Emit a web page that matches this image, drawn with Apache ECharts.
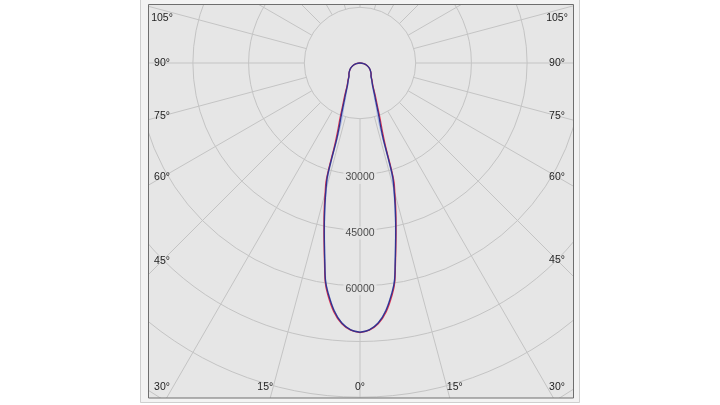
<!DOCTYPE html>
<html>
<head>
<meta charset="utf-8">
<style>
html, body { margin: 0; padding: 0; background: #fff; }
#chart { width: 720px; height: 405px; }
</style>
<script src="https://cdn.jsdelivr.net/npm/echarts@6/dist/echarts.min.js"></script>
</head>
<body>
<div id="chart"></div>
<script>
// gamma angles (deg from nadir) and luminous intensity (cd)
var gammaAngles = [0, 2, 4, 6, 8, 9, 10, 11, 12, 13, 14, 15, 16, 16.5, 17, 18, 20, 22.5, 25, 27.5, 30, 35, 40, 45, 50, 60, 70, 80, 90];
var intensityC90 = [72500, 71900, 70200, 67000, 62300, 59400, 54600, 50200, 46300, 42600, 39000, 35500, 32000, 27000, 21500, 18200, 14500, 11200, 9200, 7700, 6700, 5500, 4600, 4200, 3800, 2950, 2000, 1000, 0];
var intensityC0 = [72600, 72000, 70400, 67400, 62800, 59800, 55000, 50600, 46700, 43100, 39700, 36300, 33200, 29200, 23800, 19800, 15700, 12000, 9800, 8100, 6900, 5650, 4700, 4250, 3800, 2950, 2000, 1000, 0];
var intensityC45 = [72400, 71800, 70000, 66700, 62000, 59000, 54200, 49800, 45800, 42000, 38300, 34800, 30000, 24500, 18800, 15600, 12800, 10100, 8500, 7300, 6500, 5450, 4600, 4200, 3800, 2950, 2000, 1000, 0];
var ringLabels = [30000, 45000, 60000];
var angleTicks = [0, 15, 30, 45, 60, 75, 90, 105];

var cx = 360, cy = 63;
var ringPx = 55.7, ringStep = 15000, ringMax = 105000;
var frame = { l: 148, t: 5, r: 573, b: 398 };

var myChart = echarts.init(document.getElementById('chart'));

// left half uses gamma, right half mirrors it (360 - gamma)
function loop(values) {
    var pts = [];
    for (var i = 0; i < gammaAngles.length; i++) pts.push([values[i], gammaAngles[i]]);
    for (var j = gammaAngles.length - 1; j >= 0; j--) pts.push([values[j], 360 - gammaAngles[j]]);
    return pts;
}

var txt = { fill: '#1e1e1e', fontSize: 10.5, fontFamily: 'Liberation Sans, Arial, sans-serif' };

// angle labels sit where the spokes meet the (inset) frame
function angleLabels() {
    var out = [];
    var insetL = frame.l + 14, insetR = frame.r - 16, botY = frame.b - 11, topY = frame.t + 13;
    angleTicks.forEach(function (g) {
        var sides = g === 0 ? [0] : [-1, 1];
        sides.forEach(function (s) {
            var rad = g * Math.PI / 180;
            var x, y;
            if (s === 0) {
                x = cx; y = botY;
            } else {
                var dx = s < 0 ? cx - insetL : insetR - cx;
                y = cy + dx * Math.cos(rad) / Math.sin(rad);
                if (y > botY) {
                    x = cx + s * ((frame.b - cy) * Math.tan(rad) + 5);
                    x = Math.max(insetL, Math.min(insetR, x));
                    y = botY;
                } else {
                    x = s < 0 ? insetL : insetR;
                    y = Math.max(topY, y);
                }
            }
            out.push({
                type: 'text', z: 120, x: x, y: y,
                style: Object.assign({ text: g + '°', align: 'center', verticalAlign: 'middle' }, txt)
            });
        });
    });
    return out;
}

var covers = [
    // white outside
    { type: 'rect', z: 100, shape: { x: 0, y: 0, width: 140, height: 405 }, style: { fill: '#fff' } },
    { type: 'rect', z: 100, shape: { x: 580, y: 0, width: 140, height: 405 }, style: { fill: '#fff' } },
    { type: 'rect', z: 100, shape: { x: 0, y: 403, width: 720, height: 2 }, style: { fill: '#fff' } },
    // light band between the two frames
    { type: 'rect', z: 100, shape: { x: 140, y: 0, width: frame.l - 140, height: 403 }, style: { fill: '#f3f3f3' } },
    { type: 'rect', z: 100, shape: { x: frame.r, y: 0, width: 580 - frame.r, height: 403 }, style: { fill: '#f3f3f3' } },
    { type: 'rect', z: 100, shape: { x: 140, y: frame.b, width: 440, height: 403 - frame.b }, style: { fill: '#f3f3f3' } },
    { type: 'rect', z: 100, shape: { x: 140, y: 0, width: 440, height: frame.t }, style: { fill: '#f3f3f3' } },
    { type: 'rect', z: 101, shape: { x: 140.5, y: -1, width: 439, height: 403.5 }, style: { fill: 'none', stroke: '#cfcfcf', lineWidth: 1 } },
    { type: 'rect', z: 101, shape: { x: frame.l + 0.5, y: frame.t - 0.5, width: frame.r - frame.l, height: frame.b - frame.t + 0.5 }, style: { fill: 'none', stroke: '#6e6e6e', lineWidth: 1 } }
];

function curve(values, color, width, z) {
    return {
        type: 'line', coordinateSystem: 'polar', polarIndex: 1, data: loop(values),
        smooth: 0.35, showSymbol: false, silent: true, z: z,
        lineStyle: { color: color, width: width }
    };
}

var option = {
    backgroundColor: '#e6e6e6',
    animation: false,
    polar: [
        { center: [cx, cy], radius: [ringPx, ringPx * ringMax / ringStep] },
        { center: [cx, cy], radius: ringPx * ringMax / ringStep }
    ],
    angleAxis: [
        {
            polarIndex: 0, type: 'value', min: 0, max: 360, interval: 15, startAngle: 270,
            axisLine: { show: false }, axisTick: { show: false }, axisLabel: { show: false },
            splitLine: { lineStyle: { color: '#c4c4c4', width: 1 } }
        },
        { polarIndex: 1, type: 'value', min: 0, max: 360, startAngle: 270, show: false }
    ],
    radiusAxis: [
        {
            polarIndex: 0, type: 'value', min: ringStep, max: ringMax, interval: ringStep,
            axisLine: { show: false }, axisTick: { show: false }, axisLabel: { show: false },
            splitLine: { lineStyle: { color: '#c4c4c4', width: 1 } }
        },
        { polarIndex: 1, type: 'value', min: 0, max: ringMax, show: false }
    ],
    series: [
        curve(intensityC45, '#a9bbe8', 1, 3),
        curve(intensityC0, '#e4354f', 1.3, 4),
        curve(intensityC90, '#33338f', 1.4, 5),
        {
            type: 'scatter', coordinateSystem: 'polar', polarIndex: 1, symbolSize: 0, silent: true, z: 6,
            data: ringLabels.map(function (v) { return [v, 0]; }),
            label: {
                show: true, position: 'inside', offset: [0, 3],
                formatter: function (p) { return p.value[0]; },
                color: '#1e1e1e', fontSize: 10.5, fontFamily: 'Liberation Sans, Arial, sans-serif',
                backgroundColor: '#e6e6e6', padding: [1, 2]
            }
        }
    ],
    graphic: covers.concat(angleLabels())
};

myChart.setOption(option);
</script>
</body>
</html>
